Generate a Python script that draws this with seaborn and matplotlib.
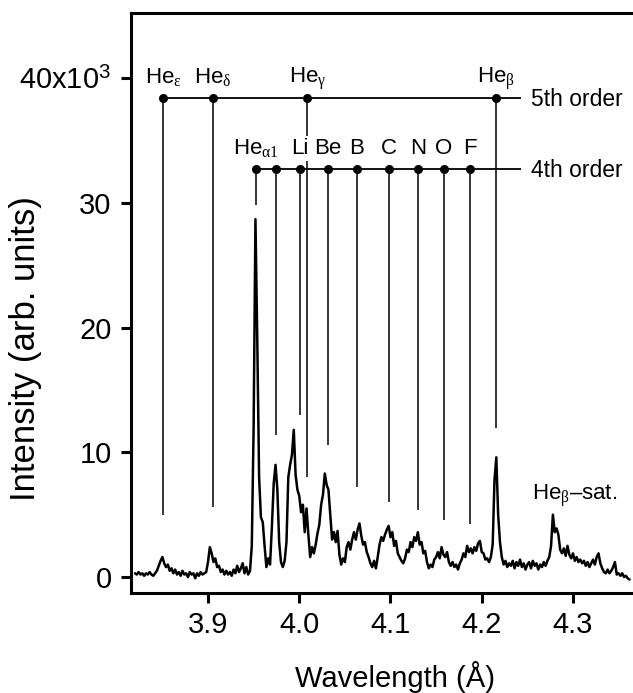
import numpy as np
import pandas as pd
import matplotlib
matplotlib.use("Agg")
import matplotlib.pyplot as plt
import seaborn as sns

# measured spectrum: channels every 0.002 A from 3.820 A, intensity in 10^3 counts
wl_start = 3.820
wl_step = 0.002
intensity_k = [
    0.3, 0.2, 0.4, 0.2, 0.3, 0.1, 0.3, 0.2, 0.4, 0.2,      # 3.820
    0.1, 0.3, 0.5, 0.9, 1.3, 1.6, 1.1, 0.8, 1.0, 0.5,      # 3.840
    0.7, 0.3, 0.6, 0.2, 0.4, 0.1, 0.5, 0.2, 0.3, 0.0,      # 3.860
    0.4, 0.2, 0.3, -0.1, 0.3, 0.1, 0.4, 0.2, 0.3, 0.4,     # 3.880
    1.2, 2.4, 1.9, 1.2, 1.5, 0.8, 0.9, 0.4, 0.6, 0.2,      # 3.900
    0.5, 0.2, 0.4, 0.1, 0.6, 0.3, 0.9, 0.4, 0.7, 1.1,      # 3.920
    0.3, 0.8, 0.2, 0.5, 2.5, 12.0, 28.7, 19.0, 8.0, 4.8,   # 3.940
    4.4, 2.5, 0.8, 1.5, 1.0, 4.0, 7.5, 9.0, 7.0, 2.8,      # 3.960
    1.2, 0.8, 1.3, 2.8, 8.0, 9.0, 9.8, 11.8, 8.2, 7.0,     # 3.980
    6.5, 5.2, 5.8, 3.6, 5.5, 3.4, 1.6, 2.4, 1.9, 2.6,      # 4.000
    3.5, 4.2, 5.8, 6.6, 8.3, 7.4, 7.0, 5.0, 3.0, 3.6,      # 4.020
    2.8, 3.7, 1.8, 1.0, 1.5, 1.2, 2.4, 2.8, 2.2, 3.0,      # 4.040
    3.6, 3.0, 3.8, 4.3, 3.3, 2.6, 2.8, 2.0, 1.6, 1.1,      # 4.060
    0.8, 1.3, 0.7, 1.6, 2.6, 3.2, 2.9, 3.4, 3.8, 4.1,      # 4.080
    3.2, 3.6, 2.5, 2.9, 1.9, 1.6, 1.3, 1.1, 1.5, 2.2,      # 4.100
    2.0, 2.8, 2.4, 3.2, 2.9, 3.6, 2.6, 2.8, 1.9, 2.1,      # 4.120
    1.2, 0.7, 1.0, 0.8, 1.4, 1.6, 2.0, 1.5, 2.4, 1.8,      # 4.140
    1.6, 2.0, 1.2, 0.9, 1.2, 0.8, 1.0, 0.6, 1.1, 1.4,      # 4.160
    1.9, 1.6, 2.5, 2.0, 2.3, 1.9, 2.4, 2.1, 2.7, 2.9,      # 4.180
    2.0, 1.9, 1.4, 1.5, 1.2, 1.6, 2.6, 7.8, 9.6, 5.0,      # 4.200
    2.8, 1.6, 1.0, 1.3, 0.8, 1.1, 0.9, 1.3, 0.7, 1.2,      # 4.220
    0.9, 1.4, 0.8, 1.1, 0.6, 1.0, 1.2, 0.7, 1.3, 0.9,      # 4.240
    1.1, 0.6, 1.0, 0.8, 1.2, 0.9, 1.3, 1.6, 2.5, 5.0,      # 4.260
    3.6, 3.9, 3.4, 2.2, 1.9, 2.3, 1.7, 2.5, 1.8, 1.5,      # 4.280
    1.9, 1.3, 1.6, 1.2, 1.4, 1.1, 1.3, 0.9, 1.2, 0.8,      # 4.300
    1.1, 1.4, 1.0, 1.6, 1.9, 1.1, 0.7, 0.4, 0.3, 0.6,      # 4.320
    0.3, 0.5, 0.8, 1.2, 0.2, 0.3, 0.1, 0.3, 0.0, 0.1,      # 4.340
    -0.1, -0.2,                                            # 4.360
]

# 5th order line positions (A) and where their drop lines stop (10^3)
fifth_names = [r'He$_{\mathrm{ε}}$', r'He$_{\mathrm{δ}}$', r'He$_{\mathrm{γ}}$', r'He$_{\mathrm{β}}$']
fifth_wl = [3.851, 3.905, 4.009, 4.2155]
fifth_low = [4.97, 5.6, 8.0, 11.95]

# 4th order lines
fourth_names = [r'He$_{\mathrm{α1}}$', '', 'Li', 'Be', 'B', 'C', 'N', 'O', 'F']
fourth_wl = [3.9526, 3.9745, 4.0008, 4.0315, 4.0633, 4.0984, 4.1301, 4.1586, 4.1871]
fourth_low = [29.8, 11.4, 13.0, 10.6, 7.2, 6.0, 5.4, 4.6, 4.25]

order_labels = ['5th order', '4th order']
order_levels = [38.41, 32.72]
order_end = 4.243

sat_label = r'He$_{\mathrm{β}}$–sat.'
sat_pos = (4.2547, 6.17)

y_ticks = [0, 10, 20, 30, 40]
y_ticklabels = ['0', '10', '20', '30', r'40x10$^{\mathregular{3}}$']
x_ticks = [3.9, 4.0, 4.1, 4.2, 4.3]

# build the table
wl = wl_start + wl_step * np.arange(len(intensity_k))
df = pd.DataFrame({'wavelength': wl, 'intensity': np.array(intensity_k) * 1000})

sns.set_style('ticks')
plt.rcParams['font.family'] = ['Liberation Sans', 'DejaVu Sans']
plt.rcParams['mathtext.fontset'] = 'custom'
plt.rcParams['mathtext.rm'] = 'Liberation Serif'
plt.rcParams['mathtext.it'] = 'Liberation Serif:italic'
plt.rcParams['mathtext.bf'] = 'Liberation Serif:bold'
plt.rcParams['text.color'] = 'black'
plt.rcParams['axes.labelcolor'] = 'black'

fig = plt.figure(figsize=(6.33, 6.93), dpi=100)
ax = fig.add_axes([131 / 633, 1 - 593 / 693, 502 / 633, 580 / 693])

sns.lineplot(data=df, x='wavelength', y='intensity', ax=ax, color='black',
             linewidth=1.8, estimator=None, sort=False)

# line identifications
for names, wls, lows, level in [(fifth_names, fifth_wl, fifth_low, order_levels[0]),
                                (fourth_names, fourth_wl, fourth_low, order_levels[1])]:
    ax.vlines(wls, np.array(lows) * 1000, level * 1000, color='black', lw=1.1, zorder=3)
    ax.hlines(level * 1000, wls[0], order_end, color='black', lw=1.3, zorder=3)
    ax.plot(wls, [level * 1000] * len(wls), 'o', color='black', ms=5.5, zorder=4)
    for name, x in zip(names, wls):
        if not name:
            continue
        # the Li label hides the He-gamma drop line behind it
        box = dict(facecolor='white', edgecolor='none', pad=1.5) if name == 'Li' else None
        ax.annotate(name, (x, level * 1000), xytext=(0, 11), textcoords='offset points',
                    ha='center', va='baseline', fontsize=16, zorder=5, bbox=box)

for label, level in zip(order_labels, order_levels):
    ax.annotate(label, (order_end + 0.011, level * 1000), xytext=(0, -5.8),
                textcoords='offset points', ha='left', va='baseline', fontsize=16.5)

ax.text(sat_pos[0], sat_pos[1] * 1000, sat_label, fontsize=16, ha='left', va='baseline')

ax.set_xlim(3.8156, 4.3658)
ax.set_ylim(-1280, 45230)
ax.set_xticks(x_ticks)
ax.set_xticklabels([f'{t:.1f}' for t in x_ticks])
ax.set_yticks([t * 1000 for t in y_ticks])
ax.set_yticklabels(y_ticklabels)
ax.tick_params(axis='both', length=7, width=2.2, labelsize=21, colors='black')
ax.tick_params(axis='y', pad=7)
ax.tick_params(axis='x', pad=6)

for side in ['left', 'top', 'bottom']:
    ax.spines[side].set_linewidth(2.2)
    ax.spines[side].set_color('black')
ax.spines['right'].set_visible(False)

ax.set_xlabel('Wavelength (Å)', fontsize=21)
ax.set_ylabel('Intensity (arb. units)', fontsize=25)
ax.xaxis.set_label_coords(0.526, -0.117)
ax.yaxis.set_label_coords(-0.177, 0.422)

fig.savefig('out.png', dpi=100)
